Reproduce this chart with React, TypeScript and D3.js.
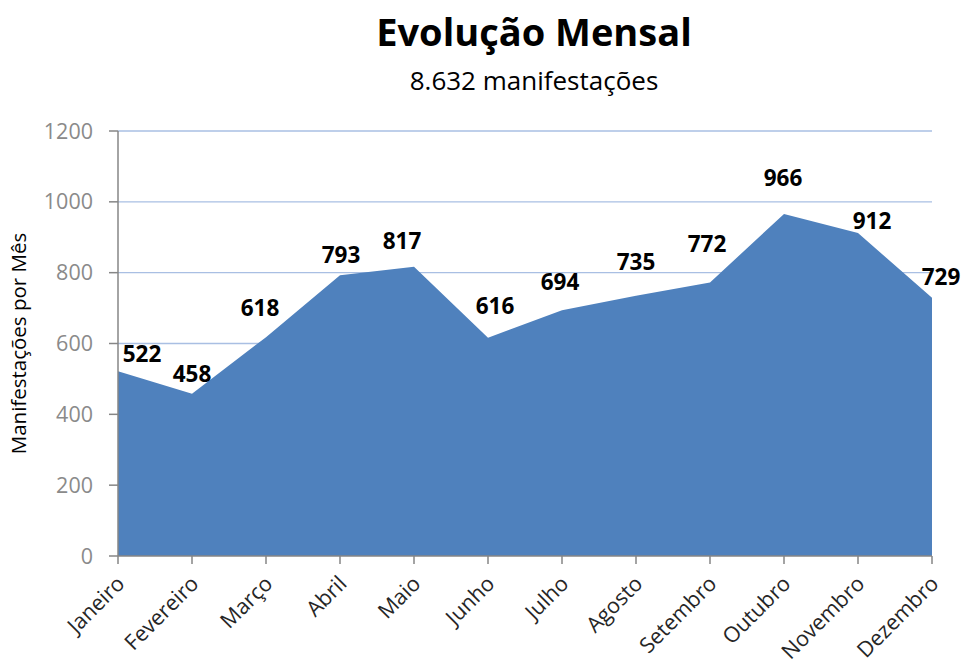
import React from "react";
import * as d3 from "d3";

const months = ["Janeiro","Fevereiro","Março","Abril","Maio","Junho","Julho","Agosto","Setembro","Outubro","Novembro","Dezembro"];
const values = [522, 458, 618, 793, 817, 616, 694, 735, 772, 966, 912, 729];
const yTicks = [0, 200, 400, 600, 800, 1000, 1200];
// label nudges (dx, dy) relative to each point, as placed in the original
const labelDx = [24, 0, -6, 1, -12, 7, -2, 0, -3, -1, 14, 9];
const labelDy = [-17, -20, -29, -20, -26, -32, -28, -34, -38, -36, -12, -21];

const W = 963, H = 666;
const left = 118, right = 932, top = 131, bottom = 556;
const font = "'Open Sans', 'Noto Sans', sans-serif";

export default function App() {
  const x = d3.scalePoint<string>().domain(months).range([left, right]);
  const y = d3.scaleLinear().domain([0, 1200]).range([bottom, top]);
  const area = d3.area<number>()
    .x((_, i) => x(months[i])!)
    .y0(y(0))
    .y1((d) => y(d));
  return (
    <svg width={W} height={H} style={{ position: "absolute", left: 0, top: 0 }} fontFamily={font}>
      <rect width={W} height={H} fill="#fff" />
      <text x={534} y={46} textAnchor="middle" fontSize={38} fontWeight="bold" fill="#000">Evolução Mensal</text>
      <text x={534} y={90} textAnchor="middle" fontSize={26} fill="#000">8.632 manifestações</text>
      {yTicks.filter(t => t > 0).map(t => (
        <line key={t} x1={left} x2={right} y1={y(t)} y2={y(t)} stroke="#a9bfe3" strokeWidth={1.3} />
      ))}
      <path d={area(values)!} fill="#4f81bd" />
      <line x1={left} x2={left} y1={top} y2={bottom} stroke="#868686" strokeWidth={1.5} />
      <line x1={left} x2={right} y1={bottom} y2={bottom} stroke="#868686" strokeWidth={1.5} />
      {yTicks.map(t => (
        <g key={t}>
          <line x1={left - 9} x2={left} y1={y(t)} y2={y(t)} stroke="#868686" strokeWidth={1.5} />
          <text x={93} y={y(t)} dy="0.35em" textAnchor="end" fontSize={21.5} fill="#8a8a8a">{t}</text>
        </g>
      ))}
      {months.map(m => (
        <g key={m}>
          <line x1={x(m)} x2={x(m)} y1={bottom} y2={bottom + 8} stroke="#868686" strokeWidth={1.5} />
          <text transform={`translate(${x(m)! + 8},${bottom + 29}) rotate(-45)`} textAnchor="end" fontSize={21.5} fill="#262626">{m}</text>
        </g>
      ))}
      <text transform={`translate(26,${(top + bottom) / 2}) rotate(-90)`} textAnchor="middle" fontSize={20.5} fill="#000">Manifestações por Mês</text>
      {values.map((v, i) => (
        <text key={i} x={x(months[i])! + labelDx[i]} y={y(v) + labelDy[i]} dy="0.35em" textAnchor="middle" fontSize={22.5} fontWeight="bold" fill="#000">{v}</text>
      ))}
    </svg>
  );
}
